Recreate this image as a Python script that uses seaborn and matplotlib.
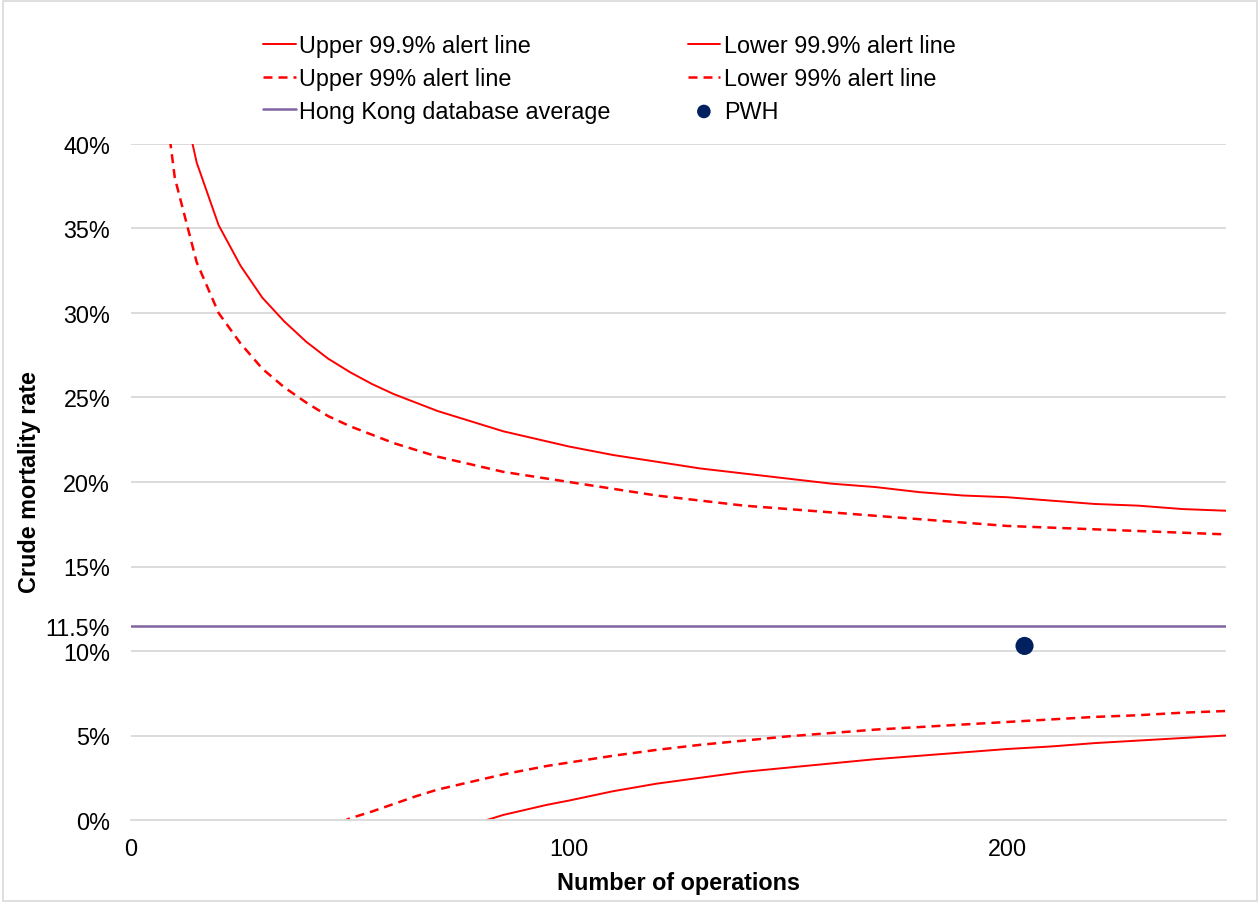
"""
Funnel plot of crude mortality rate vs number of operations (PWH vs Hong Kong average).
"""

import numpy as np
import pandas as pd
import seaborn as sns
import matplotlib.pyplot as plt
from matplotlib.patches import Rectangle

# ── Data (rates in %) ─────────────────────────────────────────────────────────
upper_999_n    = [10, 15, 20, 25, 30, 35, 40, 45, 50, 55, 60, 65, 70, 75, 80, 85, 90, 95,
                  100, 110, 120, 130, 140, 150, 160, 170, 180, 190, 200, 210, 220, 230, 240, 250]
upper_999_rate = [44.7, 38.9, 35.2, 32.8, 30.9, 29.5, 28.3, 27.3, 26.5, 25.8, 25.2, 24.7,
                  24.2, 23.8, 23.4, 23.0, 22.7, 22.4, 22.1, 21.6, 21.2, 20.8, 20.5, 20.2,
                  19.9, 19.7, 19.4, 19.2, 19.1, 18.9, 18.7, 18.6, 18.4, 18.3]

upper_99_n     = [5, 10, 15, 20, 25, 30, 35, 40, 45, 50, 55, 60, 65, 70, 75, 80, 85, 90, 95,
                  100, 110, 120, 130, 140, 150, 160, 170, 180, 190, 200, 210, 220, 230, 240, 250]
upper_99_rate  = [48.2, 38.0, 33.0, 30.0, 28.2, 26.7, 25.6, 24.7, 23.9, 23.3, 22.8, 22.3,
                  21.9, 21.5, 21.2, 20.9, 20.6, 20.4, 20.2, 20.0, 19.6, 19.2, 18.9, 18.6,
                  18.4, 18.2, 18.0, 17.8, 17.6, 17.4, 17.3, 17.2, 17.1, 17.0, 16.9]

lower_99_n     = [45, 50, 55, 60, 65, 70, 75, 80, 85, 90, 95, 100, 110, 120, 130, 140, 150,
                  160, 170, 180, 190, 200, 210, 220, 230, 240, 250]
lower_99_rate  = [-0.5, 0.1, 0.5, 0.95, 1.4, 1.8, 2.1, 2.4, 2.7, 2.95, 3.2, 3.4, 3.8, 4.15,
                  4.45, 4.7, 4.95, 5.15, 5.35, 5.5, 5.65, 5.8, 5.95, 6.1, 6.2, 6.35, 6.45]

lower_999_n    = [75, 80, 85, 90, 95, 100, 110, 120, 130, 140, 150, 160, 170, 180, 190,
                  200, 210, 220, 230, 240, 250]
lower_999_rate = [-0.6, -0.1, 0.3, 0.6, 0.9, 1.15, 1.7, 2.15, 2.5, 2.85, 3.1, 3.35, 3.6,
                  3.8, 4.0, 4.2, 4.35, 4.55, 4.7, 4.85, 5.0]

avg_n    = [0, 250]
avg_rate = [11.5, 11.5]

pwh_n    = [204]
pwh_rate = [10.3]

y_ticks = [0, 5, 10, 11.5, 15, 20, 25, 30, 35, 40]
y_tick_labels = ["0%", "5%", "10%", "11.5%", "15%", "20%", "25%", "30%", "35%", "40%"]
x_ticks = [0, 100, 200]

# ── Style ─────────────────────────────────────────────────────────────────────
sns.set_theme(style="white")
plt.rcParams["font.family"] = ["Liberation Sans", "DejaVu Sans"]
plt.rcParams["text.color"] = "black"
plt.rcParams["axes.labelcolor"] = "black"
FS = 16.8
RED = "#FF0000"
PURPLE = "#8064A2"
NAVY = "#002060"
GRID = "#D9D9D9"
DASH = (0, (3.6, 2.4))

fig = plt.figure(figsize=(12.6, 9.04), dpi=100)
ax = fig.add_axes([131 / 1260, 1 - 821 / 904, (1226 - 131) / 1260, (821 - 145) / 904])

# grid lines first so the data sit on top
for yv in [5, 10, 15, 20, 25, 30, 35, 40]:
    ax.axhline(yv, color=GRID, lw=1.3, zorder=0)

sns.lineplot(x=upper_999_n, y=upper_999_rate, color=RED, lw=1.4, ax=ax,
             label="Upper 99.9% alert line")
sns.lineplot(x=upper_99_n, y=upper_99_rate, color=RED, lw=1.8, linestyle=DASH, ax=ax,
             label="Upper 99% alert line")
sns.lineplot(x=avg_n, y=avg_rate, color=PURPLE, lw=1.8, ax=ax,
             label="Hong Kong database average")
sns.lineplot(x=lower_999_n, y=lower_999_rate, color=RED, lw=1.4, ax=ax,
             label="Lower 99.9% alert line")
sns.lineplot(x=lower_99_n, y=lower_99_rate, color=RED, lw=1.8, linestyle=DASH, ax=ax,
             label="Lower 99% alert line")
sns.scatterplot(x=pwh_n, y=pwh_rate, color=NAVY, s=170, edgecolor="none", ax=ax,
                label="PWH", zorder=5)

ax.set_xlim(0, 250)
ax.set_ylim(0, 40)
ax.set_yticks(y_ticks)
ax.set_yticklabels(y_tick_labels)
ax.set_xticks(x_ticks)
ax.tick_params(axis="y", length=0, pad=15, labelsize=FS, labelcolor="black")
ax.tick_params(axis="x", length=6, width=1.2, color=GRID, pad=6, labelsize=FS,
               labelcolor="black", direction="out")
for side in ["left", "right", "top"]:
    ax.spines[side].set_visible(False)
ax.spines["bottom"].set_color(GRID)
ax.spines["bottom"].set_linewidth(1.3)

ax.set_xlabel("Number of operations", fontsize=FS, fontweight="bold", labelpad=8)
ax.set_ylabel("")
fig.text(30 / 1260, 1 - 482 / 904, "Crude mortality rate", rotation=90, ha="center",
         va="center", fontsize=FS, fontweight="bold")

# legend: two columns above the plot area
handles, labels = ax.get_legend_handles_labels()
ax.get_legend().remove()
fig.legend(handles, labels, ncol=2, loc="upper left",
           bbox_to_anchor=(263 / 1260, 1 - 35 / 904), frameon=False,
           fontsize=FS, handlelength=1.4, handletextpad=0.15, columnspacing=3.3,
           labelspacing=0.42, borderpad=0, borderaxespad=0, markerscale=0.75)

# thin chart-area border
fig.patches.append(Rectangle((0.002, 0.002), 0.996, 0.996, transform=fig.transFigure,
                             fill=False, edgecolor=GRID, lw=1.2))

fig.savefig("out.png", dpi=100)
plt.close(fig)
